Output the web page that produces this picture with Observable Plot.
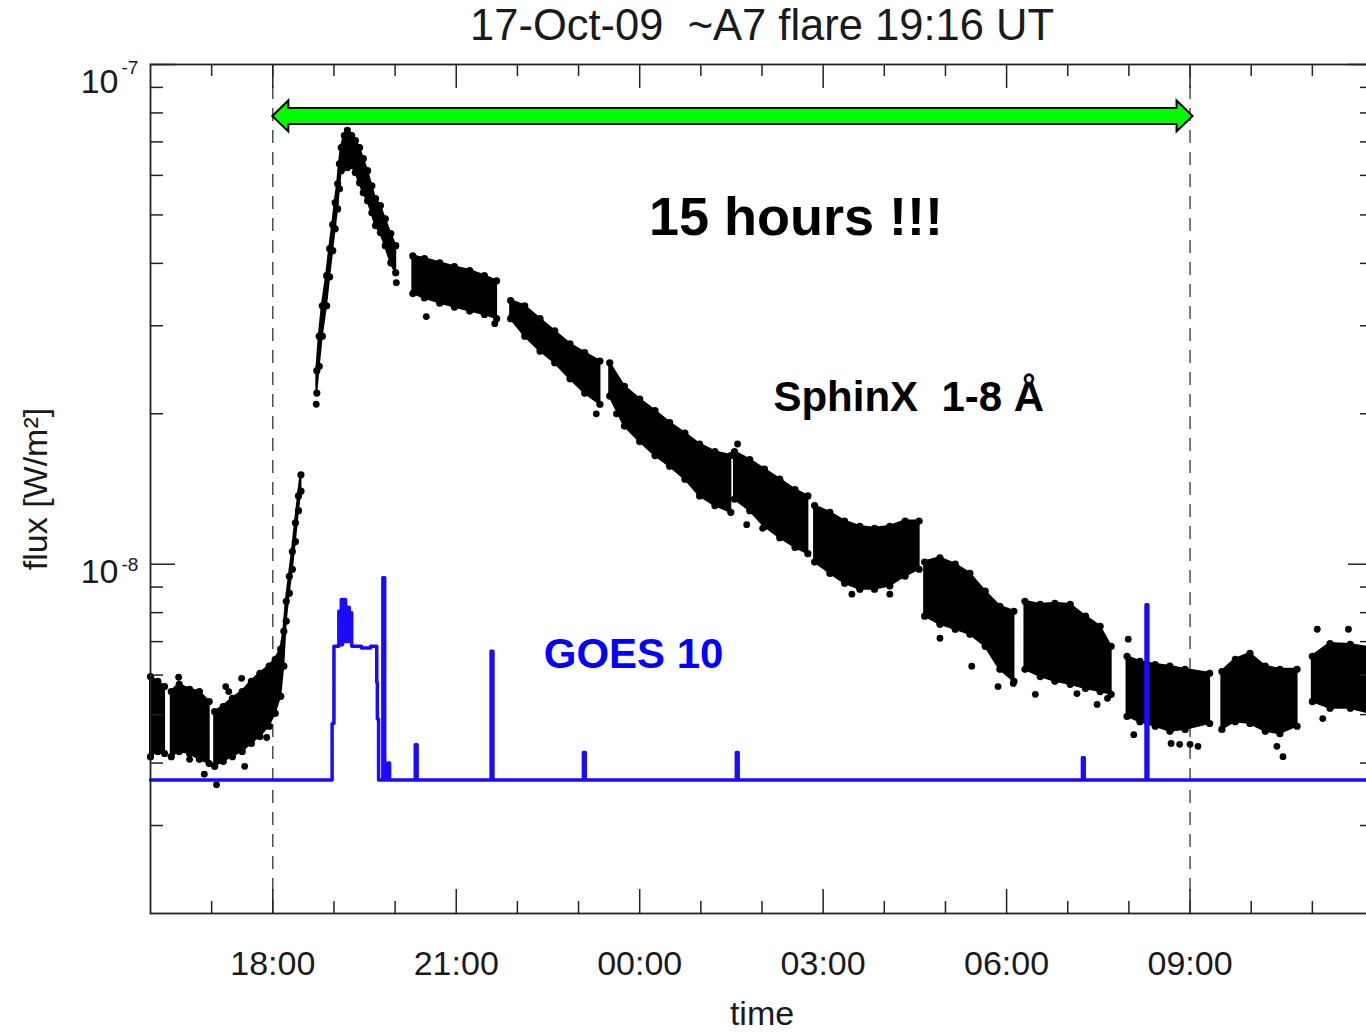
<!DOCTYPE html>
<html>
<head>
<meta charset="utf-8">
<script src="https://cdn.jsdelivr.net/npm/d3@7"></script>
<script src="https://cdn.jsdelivr.net/npm/@observablehq/plot@0.6"></script>
<style>
html, body { margin: 0; padding: 0; background: #fff; overflow: hidden; }
#wrap { width: 1366px; height: 1032px; overflow: hidden; }
</style>
</head>
<body>
<div id="wrap"></div>
<script>
// ---------------- DATA ----------------
// time in decimal hours UT counted from 17-Oct-2009 00:00 (24 = 18-Oct 00:00)
const titleText = "17-Oct-09\u00a0\u00a0~A7 flare 19:16 UT";
const yLabelText = "flux [W/m\u00b2]";
const xLabelText = "time";

const xMajorTicks = [18, 21, 24, 27, 30, 33];
const xMinorTicks = [17, 19, 20, 22, 23, 25, 26, 28, 29, 31, 32, 34, 35];
const yMajorTicks = [1e-8, 1e-7];
const yMinorTicks = [3e-9, 4e-9, 5e-9, 6e-9, 7e-9, 8e-9, 9e-9, 2e-8, 3e-8, 4e-8, 5e-8, 6e-8, 7e-8, 8e-8, 9e-8];

// SphinX 1-8 A: dense scatter read as upper/lower envelope per data segment
const sxSegLen = [3, 5, 16, 23, 7, 7, 9, 6, 8, 7, 7, 6, 6, 4];
const sxT = [
  16.00, 16.12, 16.23,
  16.34, 16.47, 16.64, 16.80, 16.96,
  17.05, 17.19, 17.34, 17.50, 17.65, 17.79, 17.94, 18.04, 18.13, 18.18, 18.22, 18.27, 18.32, 18.37, 18.42, 18.46,
  18.72, 18.76, 18.81, 18.88, 18.93, 18.98, 19.02, 19.06, 19.09, 19.12, 19.17, 19.22, 19.29, 19.35, 19.42, 19.48, 19.55, 19.62, 19.68, 19.76, 19.84, 19.93, 20.01,
  20.29, 20.48, 20.73, 20.97, 21.22, 21.46, 21.66,
  21.89, 22.12, 22.37, 22.61, 22.86, 23.10, 23.35,
  23.51, 23.75, 24.00, 24.25, 24.49, 24.74, 24.98, 25.23, 25.49,
  25.55, 25.80, 26.04, 26.29, 26.54, 26.75,
  26.86, 27.11, 27.35, 27.60, 27.84, 28.09, 28.34, 28.57,
  28.66, 28.91, 29.16, 29.40, 29.65, 29.89, 30.12,
  30.30, 30.55, 30.79, 31.04, 31.29, 31.53, 31.71,
  31.97, 32.18, 32.43, 32.67, 32.92, 33.32,
  33.52, 33.74, 33.98, 34.23, 34.47, 34.75,
  35.00, 35.29, 35.62, 36.00
];
const sxHi = [
  5.96e-9, 5.83e-9, 5.69e-9,
  5.56e-9, 5.75e-9, 5.62e-9, 5.56e-9, 5.31e-9,
  5.07e-9, 5.19e-9, 5.39e-9, 5.56e-9, 5.83e-9, 6.05e-9, 6.25e-9, 6.45e-9, 6.76e-9, 7.34e-9, 8.43e-9, 9.46e-9, 1.06e-8, 1.21e-8, 1.37e-8, 1.51e-8,
  2.44e-8, 2.86e-8, 3.29e-8, 3.78e-8, 4.28e-8, 4.78e-8, 5.29e-8, 5.77e-8, 6.33e-8, 6.82e-8, 7.21e-8, 7.38e-8, 7.21e-8, 7.04e-8, 6.82e-8, 6.48e-8, 6.13e-8, 5.72e-8, 5.39e-8, 5.22e-8, 4.91e-8, 4.59e-8, 4.34e-8,
  4.14e-8, 4.09e-8, 4.01e-8, 3.94e-8, 3.87e-8, 3.78e-8, 3.69e-8,
  3.37e-8, 3.29e-8, 3.10e-8, 2.93e-8, 2.76e-8, 2.65e-8, 2.55e-8,
  2.53e-8, 2.27e-8, 2.14e-8, 2.03e-8, 1.92e-8, 1.83e-8, 1.74e-8, 1.68e-8, 1.65e-8,
  1.68e-8, 1.62e-8, 1.55e-8, 1.48e-8, 1.41e-8, 1.37e-8,
  1.31e-8, 1.27e-8, 1.22e-8, 1.19e-8, 1.18e-8, 1.19e-8, 1.22e-8, 1.22e-8,
  1.01e-8, 1.03e-8, 1.00e-8, 9.59e-9, 8.83e-9, 8.24e-9, 8.05e-9,
  8.43e-9, 8.31e-9, 8.35e-9, 8.31e-9, 7.87e-9, 7.51e-9, 6.85e-9,
  6.54e-9, 6.39e-9, 6.30e-9, 6.25e-9, 6.16e-9, 6.05e-9,
  6.10e-9, 6.45e-9, 6.63e-9, 6.25e-9, 6.16e-9, 6.16e-9,
  6.54e-9, 6.94e-9, 6.91e-9, 6.78e-9
];
const sxLo = [
  4.12e-9, 4.22e-9, 4.18e-9,
  4.12e-9, 4.22e-9, 4.18e-9, 4.07e-9, 3.99e-9,
  3.94e-9, 4.03e-9, 4.12e-9, 4.22e-9, 4.38e-9, 4.52e-9, 4.74e-9, 5.03e-9, 5.44e-9, 6.25e-9, 7.69e-9, 8.75e-9, 9.77e-9, 1.11e-8, 1.28e-8, 1.40e-8,
  2.20e-8, 2.49e-8, 2.86e-8, 3.29e-8, 3.76e-8, 4.24e-8, 4.69e-8, 5.14e-8, 5.64e-8, 6.13e-8, 6.28e-8, 6.22e-8, 6.28e-8, 6.08e-8, 5.80e-8, 5.54e-8, 5.34e-8, 5.05e-8, 4.76e-8, 4.61e-8, 4.34e-8, 4.01e-8, 3.83e-8,
  3.48e-8, 3.41e-8, 3.33e-8, 3.27e-8, 3.21e-8, 3.16e-8, 3.10e-8,
  3.10e-8, 2.86e-8, 2.67e-8, 2.53e-8, 2.35e-8, 2.20e-8, 2.09e-8,
  2.17e-8, 1.89e-8, 1.76e-8, 1.65e-8, 1.57e-8, 1.48e-8, 1.37e-8, 1.31e-8, 1.27e-8,
  1.35e-8, 1.28e-8, 1.19e-8, 1.13e-8, 1.08e-8, 1.05e-8,
  1.01e-8, 9.59e-9, 9.16e-9, 8.91e-9, 8.91e-9, 9.04e-9, 9.46e-9, 9.77e-9,
  7.87e-9, 7.58e-9, 7.41e-9, 7.24e-9, 6.85e-9, 6.16e-9, 5.83e-9,
  6.16e-9, 5.96e-9, 5.83e-9, 5.75e-9, 5.64e-9, 5.56e-9, 5.49e-9,
  4.96e-9, 4.84e-9, 4.74e-9, 4.63e-9, 4.67e-9, 4.80e-9,
  4.67e-9, 4.84e-9, 4.80e-9, 4.63e-9, 4.58e-9, 4.74e-9,
  5.31e-9, 5.15e-9, 5.15e-9, 5.01e-9
];
// isolated SphinX samples outside the dense band
const sxOutT = [16.46, 16.64, 16.88, 17.08, 17.23, 17.28, 17.49, 17.54, 17.90, 18.71, 20.02, 20.51, 21.63, 23.29, 23.62,
  25.60, 25.75, 26.01, 27.47, 28.09, 28.91, 29.43, 29.86, 30.11, 30.47, 31.15, 31.48, 31.65,
  31.99, 32.08, 32.69, 32.83, 33.00, 33.13, 34.42, 34.52, 35.08, 35.17, 35.59];
const sxOutV = [5.94e-9, 4.07e-9, 3.80e-9, 3.62e-9, 5.69e-9, 5.56e-9, 5.91e-9, 3.94e-9, 4.50e-9, 2.09e-8, 3.66e-8, 3.13e-8, 3.03e-8, 2.00e-8, 2.00e-8,
  1.74e-8, 1.20e-8, 1.18e-8, 8.71e-9, 8.71e-9, 7.11e-9, 6.25e-9, 5.69e-9, 5.77e-9, 5.49e-9, 5.51e-9, 5.24e-9, 5.39e-9,
  7.08e-9, 4.56e-9, 4.38e-9, 4.36e-9, 4.36e-9, 4.32e-9, 4.32e-9, 4.12e-9, 7.41e-9, 4.91e-9, 7.41e-9];

// GOES 10 (step series)
const goesT = [16.00, 18.96, 18.97, 19.00, 19.08, 19.09, 19.10, 19.11, 19.12, 19.13, 19.14, 19.15, 19.16, 19.17, 19.18, 19.19,
  19.20, 19.21, 19.22, 19.23, 19.24, 19.25, 19.26, 19.27, 19.28, 19.29, 19.45, 19.60, 19.70, 19.71, 19.73,
  19.80, 19.83, 19.88, 19.91, 20.33, 20.36, 21.57, 21.60, 23.08, 23.11, 25.58, 25.61, 31.24, 31.27, 32.28, 32.31, 36.00];
const goesV = [3.7e-9, 3.7e-9, 4.8e-9, 6.85e-9, 8.05e-9, 6.9e-9, 8.05e-9, 6.9e-9, 8.5e-9, 6.9e-9, 8.5e-9, 7.0e-9, 8.5e-9, 7.0e-9, 8.5e-9, 7.0e-9,
  8.2e-9, 7.0e-9, 8.2e-9, 7.0e-9, 8.2e-9, 7.0e-9, 8.0e-9, 7.0e-9, 8.0e-9, 6.85e-9, 6.8e-9, 6.85e-9, 5.8e-9, 4.9e-9, 3.7e-9,
  9.4e-9, 3.7e-9, 4.0e-9, 3.7e-9, 4.35e-9, 3.7e-9, 6.7e-9, 3.7e-9, 4.2e-9, 3.7e-9, 4.2e-9, 3.7e-9, 4.1e-9, 3.7e-9, 8.3e-9, 3.7e-9, 3.7e-9];

// annotations
const spanFrom = 18, spanTo = 33, spanLevel = 7.87e-8;
const noteHours = "15 hours !!!";
const noteSphinx = "SphinX\u00a0\u00a01-8 \u00c5";
const noteGoes = "GOES 10";

// ---------------- BUILD ----------------
const W = 1380, H = 1032, ML = 150, MR = 7, MT = 64, MB = 119;
const FW = W - ML - MR, FH = H - MT - MB;
const FONT = "'Liberation Sans', Arial, Helvetica, sans-serif";
const INK = "#1a1a1a";

const sphinx = [];
{
  let k = 0;
  sxSegLen.forEach((n, s) => {
    for (let i = 0; i < n; i++, k++) sphinx.push({seg: s, t: sxT[k], hi: sxHi[k], lo: sxLo[k]});
  });
}
const outliers = sxOutT.map((t, i) => ({t, v: sxOutV[i]}));
const goes = goesT.map((t, i) => ({t, v: goesV[i]}));
const hhmm = h => String(h % 24).padStart(2, "0") + ":00";

function spanArrow(...args) {
  const scales = args.find(a => a && typeof a.x === "function" && typeof a.y === "function");
  const x1 = scales.x(spanFrom), x2 = scales.x(spanTo) + 3, yc = scales.y(spanLevel);
  const hl = 16, hh = 15.5, sh = 8;
  const d = `M${x1},${yc}L${x1 + hl},${yc - hh}L${x1 + hl},${yc - sh}L${x2 - hl},${yc - sh}L${x2 - hl},${yc - hh}L${x2},${yc}` +
            `L${x2 - hl},${yc + hh}L${x2 - hl},${yc + sh}L${x1 + hl},${yc + sh}L${x1 + hl},${yc + hh}Z`;
  const p = document.createElementNS("http://www.w3.org/2000/svg", "path");
  p.setAttribute("d", d);
  p.setAttribute("fill", "#00ff00");
  p.setAttribute("stroke", "#000");
  p.setAttribute("stroke-width", "2");
  p.setAttribute("stroke-linejoin", "miter");
  return p;
}

const tickStyle = {stroke: "#222", strokeWidth: 1.5};

const chart = Plot.plot({
  width: W, height: H,
  marginLeft: ML, marginRight: MR, marginTop: MT, marginBottom: MB,
  x: {type: "linear", domain: [16, 36], axis: null},
  y: {type: "log", domain: [2e-9, 1e-7], axis: null},
  style: {fontFamily: FONT, background: "#fff", maxWidth: "none", overflow: "visible", color: INK},
  marks: [
    // dashed span markers
    Plot.ruleX([spanFrom, spanTo], {stroke: "#333", strokeWidth: 1.3, strokeDasharray: "13,9"}),
    // SphinX band
    Plot.areaY(sphinx, {x: "t", y1: "lo", y2: "hi", z: "seg", fill: "#000", stroke: "#000", strokeWidth: 2, strokeLinejoin: "round"}),
    Plot.dot(sphinx, {x: "t", y: "hi", r: 3.6, fill: "#000"}),
    Plot.dot(sphinx, {x: "t", y: "lo", r: 3.6, fill: "#000"}),
    Plot.dot(outliers, {x: "t", y: "v", r: 3.4, fill: "#000"}),
    // GOES 10
    Plot.line(goes, {x: "t", y: "v", curve: "step-after", stroke: "#1a0aff", strokeWidth: 3.5}),
    // ticks (inward, IDL style)
    Plot.ruleX(xMajorTicks, {insetTop: FH - 24, ...tickStyle}),
    Plot.ruleX(xMajorTicks, {insetBottom: FH - 24, ...tickStyle}),
    Plot.ruleX(xMinorTicks, {insetTop: FH - 12, ...tickStyle}),
    Plot.ruleX(xMinorTicks, {insetBottom: FH - 12, ...tickStyle}),
    Plot.ruleY(yMajorTicks, {insetRight: FW - 25, ...tickStyle}),
    Plot.ruleY(yMajorTicks, {insetLeft: FW - 25, ...tickStyle}),
    Plot.ruleY(yMinorTicks, {insetRight: FW - 13, ...tickStyle}),
    Plot.ruleY(yMinorTicks, {insetLeft: FW - 13, ...tickStyle}),
    Plot.frame({stroke: "#222", strokeWidth: 1.8}),
    // span arrow
    spanArrow,
    // tick labels
    Plot.text(xMajorTicks, {x: d => d, text: hhmm, frameAnchor: "bottom", lineAnchor: "middle", dy: 51, fontSize: 34, fill: INK}),
    Plot.text([yMajorTicks[0]], {y: d => d, text: () => "10", frameAnchor: "left", textAnchor: "end", lineAnchor: "middle", dx: -32, dy: 8, fontSize: 34, fill: INK}),
    Plot.text([yMajorTicks[0]], {y: d => d, text: d => String(Math.round(Math.log10(d))), frameAnchor: "left", textAnchor: "start", lineAnchor: "middle", dx: -29, dy: 1, fontSize: 19, fill: INK}),
    Plot.text([yMajorTicks[1]], {y: d => d, text: () => "10", frameAnchor: "left", textAnchor: "end", lineAnchor: "middle", dx: -32, dy: 18, fontSize: 34, fill: INK}),
    Plot.text([yMajorTicks[1]], {y: d => d, text: d => String(Math.round(Math.log10(d))), frameAnchor: "left", textAnchor: "start", lineAnchor: "middle", dx: -29, dy: 3, fontSize: 19, fill: INK}),
    // axis labels and title
    Plot.text([xLabelText], {text: d => d, frameAnchor: "bottom", lineAnchor: "middle", dy: 101, fontSize: 34, fill: INK}),
    Plot.text([yLabelText], {text: d => d, frameAnchor: "left", textAnchor: "middle", lineAnchor: "middle", rotate: -90, dx: -114, fontSize: 34, fill: INK}),
    Plot.text([titleText], {text: d => d, frameAnchor: "top", lineAnchor: "middle", dy: -38, fontSize: 43.5, fill: INK}),
    // annotations
    Plot.text([noteHours], {x: () => 26.555, y: () => 4.94e-8, text: d => d, fontSize: 54, fontWeight: "bold", fill: "#000"}),
    Plot.text([noteSphinx], {x: () => 28.40, y: () => 2.16e-8, text: d => d, fontSize: 42, fontWeight: "bold", fill: "#000"}),
    Plot.text([noteGoes], {x: () => 23.90, y: () => 6.6e-9, text: d => d, fontSize: 42, fontWeight: "bold", fill: "#0000ff"})
  ]
});
document.getElementById("wrap").appendChild(chart);
</script>
</body>
</html>
